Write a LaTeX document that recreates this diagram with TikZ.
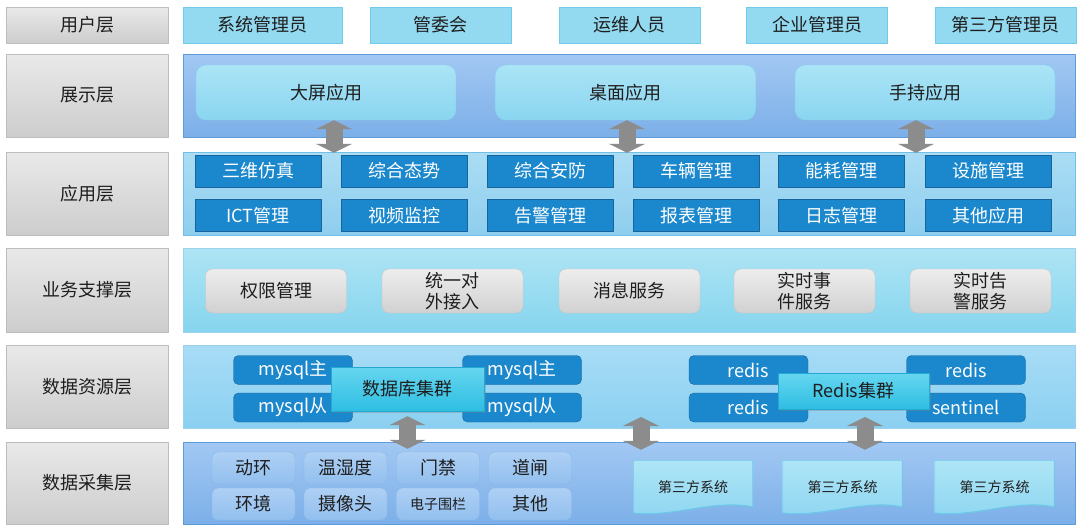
\documentclass[tikz,border=0pt]{standalone}
\usepackage{fontspec}
\setmainfont{Noto Sans CJK SC}
\usetikzlibrary{positioning, shadows, arrows.meta}

\definecolor{txtdark}{HTML}{1E1E1E}
\definecolor{lblA}{HTML}{E9E9E9}
\definecolor{lblB}{HTML}{CDCDCD}
\definecolor{lblE}{HTML}{BDBDBD}
\definecolor{usrF}{HTML}{93D9F0}
\definecolor{usrE}{HTML}{70CAE9}
\definecolor{pnlA}{HTML}{A2C8F3}
\definecolor{pnlB}{HTML}{7CAFE8}
\definecolor{pnlE}{HTML}{5E9DDA}
\definecolor{preA}{HTML}{ABE4F6}
\definecolor{preB}{HTML}{8AD5F0}
\definecolor{preE}{HTML}{86CEEC}
\definecolor{appA}{HTML}{ABDDF4}
\definecolor{appB}{HTML}{8ECEEE}
\definecolor{appE}{HTML}{72BEE4}
\definecolor{appF}{HTML}{1B88CD}
\definecolor{appE2}{HTML}{17639B}
\definecolor{busA}{HTML}{AEE4F4}
\definecolor{busB}{HTML}{86D5EE}
\definecolor{resA}{HTML}{A8DCF6}
\definecolor{resB}{HTML}{8BD0F1}
\definecolor{srvA}{HTML}{EDEDED}
\definecolor{srvB}{HTML}{D1D1D1}
\definecolor{srvE}{HTML}{C4C4C4}
\definecolor{cluA}{HTML}{66D6F0}
\definecolor{cluB}{HTML}{2EBEE2}
\definecolor{cluE}{HTML}{22AAD3}
\definecolor{colA}{HTML}{AED0F4}
\definecolor{colB}{HTML}{92BFEF}
\definecolor{colE}{HTML}{86B6E7}
\definecolor{docA}{HTML}{AEE5F6}
\definecolor{docB}{HTML}{8FD6F1}
\definecolor{docE}{HTML}{6DC7E9}
\definecolor{arrowgray}{HTML}{8C8C8C}

\begin{document}
\begin{tikzpicture}[x=1pt, y=-1pt, line join=bevel,
    every node/.style={inner sep=0pt, font=\fontsize{18}{21}\selectfont, text=txtdark},
    layer/.style={draw=lblE, top color=lblA, bottom color=lblB, minimum width=162pt, minimum height=83pt},
    user/.style={draw=usrE, fill=usrF, minimum width=141pt, minimum height=36pt},
    bluepanel/.style={draw=pnlE, top color=pnlA, bottom color=pnlB, minimum width=892pt, minimum height=83pt},
    cyanpanel/.style={draw=appE, top color=appA, bottom color=appB, minimum width=892pt, minimum height=83pt},
    screen/.style={draw=preE, top color=preA, bottom color=preB, rounded corners=10pt, minimum width=260pt, minimum height=55pt},
    appbox/.style={draw=appE2, fill=appF, text=white, minimum width=126pt, minimum height=32pt},
    service/.style={draw=srvE, top color=srvA, bottom color=srvB, rounded corners=7pt, minimum width=141pt, minimum height=44pt, align=center},
    db/.style={draw=appE2, fill=appF, text=white, rounded corners=5pt, minimum width=119pt, minimum height=29pt},
    cluster/.style={draw=cluE, top color=cluA, bottom color=cluB, drop shadow={opacity=.35, shadow xshift=1.5pt, shadow yshift=-1.5pt}},
    sensor/.style={draw=colE, top color=colA, bottom color=colB, rounded corners=6pt, minimum width=83pt, minimum height=32pt},
    docbox/.style={minimum width=120pt, minimum height=54pt, font=\fontsize{14}{16}\selectfont,
      path picture={\shadedraw[draw=docE, top color=docA, bottom color=docB, line width=1.2pt]
        (path picture bounding box.north west) -- (path picture bounding box.north east)
        -- ([yshift=7pt]path picture bounding box.south east)
        .. controls +(-40pt,8pt) and +(40pt,-5pt) .. ([yshift=1pt]path picture bounding box.south west) -- cycle;}},
    updown/.style={line width=17pt, draw=arrowgray,
      {Triangle[width=36pt 0 0, length=9pt 0 0]}-{Triangle[width=36pt 0 0, length=9pt 0 0]}}]
  \useasboundingbox[fill=white] (0,0) rectangle (1080,530);
  %
  \node[layer, minimum height=36pt] (lusr) at (87,25) {用户层};
  \node[layer] (lpre) at (87,95.5) {展示层};
  \node[layer] (lapp) at (87,193.5) {应用层};
  \node[layer, minimum height=84pt] (lbus) at (87,290) {业务支撑层};
  \node[layer] (lres) at (87,386.5) {数据资源层};
  \node[layer, minimum height=82pt] (lcol) at (87,483) {数据采集层};
  %
  \node[user, minimum width=159pt] (u1) at (262.5,25) {系统管理员};
  \node[user] (u2) at (440.5,25) {管委会};
  \node[user] (u3) at (629.5,25) {运维人员};
  \node[user] (u4) at (817,25) {企业管理员};
  \node[user] (u5) at (1005.5,25) {第三方管理员};
  %
  \node[bluepanel] (pl) at (629,95.5) {};
  \node[screen] (big) at (326,92.5) {大屏应用};
  \node[screen] (desk) at (625.5,92.5) {桌面应用};
  \node[screen] (hand) at (925,92.5) {手持应用};
  %
  \node[cyanpanel] (al) at (629,193.5) {};
  \node[appbox] (a1) at (258,171) {三维仿真};
  \node[appbox] (a2) at (404,171) {综合态势};
  \node[appbox] (a3) at (550,171) {综合安防};
  \node[appbox] (a4) at (696,171) {车辆管理};
  \node[appbox] (a5) at (841.5,171) {能耗管理};
  \node[appbox] (a6) at (988,171) {设施管理};
  \node[appbox] (a7) at (258,215.5) {ICT管理};
  \node[appbox] (a8) at (404,215.5) {视频监控};
  \node[appbox] (a9) at (550,215.5) {告警管理};
  \node[appbox] (a10) at (696,215.5) {报表管理};
  \node[appbox] (a11) at (841.5,215.5) {日志管理};
  \node[appbox] (a12) at (988,215.5) {其他应用};
  %
  \node[cyanpanel, draw=appE!70, top color=busA, bottom color=busB, minimum height=84pt] (bl) at (629,290) {};
  \node[service] (s1) at (276,291) {权限管理};
  \node[service] (s2) at (452.5,291) {统一对\\外接入};
  \node[service] (s3) at (629.5,291) {消息服务};
  \node[service] (s4) at (804.5,291) {实时事\\件服务};
  \node[service] (s5) at (980.5,291) {实时告\\警服务};
  %
  \node[cyanpanel, draw=appE!70, top color=resA, bottom color=resB] (rl) at (629,386.5) {};
  \node[db] (m1) at (293,370) {mysql主};
  \node[db] (m2) at (293,407.5) {mysql从};
  \node[db] (m3) at (522,370) {mysql主};
  \node[db] (m4) at (522,407.5) {mysql从};
  \node[cluster, minimum width=153pt, minimum height=44pt] (dbc) at (407.5,389) {数据库集群};
  \node[db] (r1) at (748.5,370) {redis};
  \node[db] (r2) at (748.5,407.5) {redis};
  \node[db] (r3) at (966,370) {redis};
  \node[db] (r4) at (966,407.5) {sentinel};
  \node[cluster, minimum width=151pt, minimum height=36pt] (rdc) at (853.5,391) {Redis集群};
  %
  \node[bluepanel, minimum height=82pt] (cl) at (629,483) {};
  \node[sensor] (c1) at (253.5,468) {动环};
  \node[sensor] (c2) at (345.5,468) {温湿度};
  \node[sensor] (c3) at (438,468) {门禁};
  \node[sensor] (c4) at (530,468) {道闸};
  \node[sensor] (c5) at (253.5,504) {环境};
  \node[sensor] (c6) at (345.5,504) {摄像头};
  \node[sensor, font=\fontsize{14}{16}\selectfont] (c7) at (438,504) {电子围栏};
  \node[sensor] (c8) at (530,504) {其他};
  \node[docbox] (t1) at (693,487) {第三方系统};
  \node[docbox] (t2) at (842.5,487) {第三方系统};
  \node[docbox] (t3) at (994.5,487) {第三方系统};
  %
  \coordinate (up1) at (641,417);
  \coordinate (up2) at (865,417);
  \draw[updown] ([xshift=8pt]big.south) -- ([xshift=8pt,yshift=-1pt]big.south |- al.north);
  \draw[updown] ([xshift=1.5pt]desk.south) -- ([xshift=1.5pt,yshift=-1pt]desk.south |- al.north);
  \draw[updown] ([xshift=-9pt]hand.south) -- ([xshift=-9pt,yshift=-1pt]hand.south |- al.north);
  \draw[updown] ([yshift=-5pt]dbc.south) -- ([yshift=-7pt]dbc.south |- cl.north);
  \draw[updown] (up1) -- ([yshift=-8pt]up1 |- cl.north);
  \draw[updown] (up2) -- ([yshift=-8pt]up2 |- cl.north);
\end{tikzpicture}
\end{document}
